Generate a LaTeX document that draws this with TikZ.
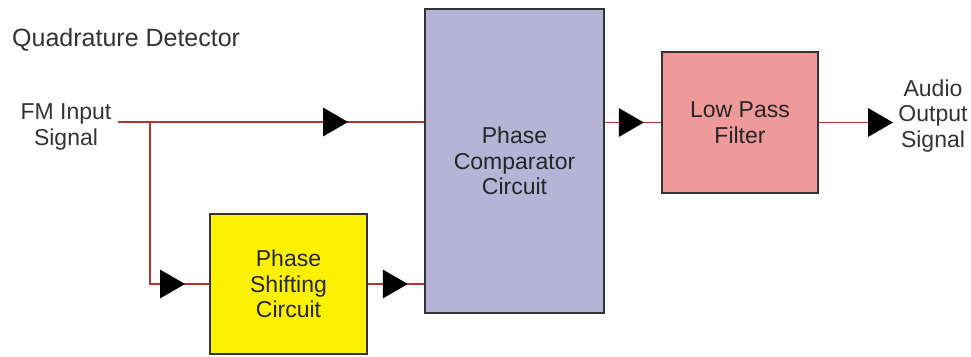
\documentclass[tikz,border=0pt]{standalone}
\usepackage{fontspec}
\setmainfont{Liberation Sans}
\usepackage{xcolor}
\usepackage{tikz}
\usetikzlibrary{arrows.meta,positioning,calc,decorations.markings}

\definecolor{wirered}{RGB}{178,52,52}
\definecolor{lavender}{RGB}{181,179,214}
\definecolor{salmon}{RGB}{238,154,154}
\definecolor{lemon}{RGB}{252,242,0}
\newcommand{\blockfont}{\fontsize{23}{25.5}\selectfont}

\begin{document}
\begin{tikzpicture}[
  x=1pt, y=-1pt,
  font=\blockfont,
  wire/.style={draw=wirered, line width=1.4pt},
  mid/.style={postaction={decorate}, decoration={markings, mark=at position #1 with {%
    \fill[black] (-25pt,-14.5pt) -- (0pt,0pt) -- (-25pt,14.5pt) -- cycle;}}},
  block/.style={draw=black!80, line width=1.6pt, text=black!85, align=center, inner sep=2pt},
  lbl/.style={text=black!80, align=center, inner sep=1pt}
]
\useasboundingbox (0,0) rectangle (971,356);
\node[lbl, anchor=west, font=\fontsize{25}{28}\selectfont] (title) at (11,40) {Quadrature Detector};
\node[block, fill=lavender, minimum width=179pt, minimum height=304pt] (cmp) at (514.5,161) {%
  Phase\\Comparator\\Circuit};
\node[block, fill=salmon, minimum width=156pt, minimum height=141pt] (lpf) at (740,122.5) {%
  Low Pass\\Filter};
\node[block, fill=lemon, minimum width=157pt, minimum height=140pt] (shift) at (288.5,284) {%
  Phase\\Shifting\\Circuit};
\node[lbl] (fm) at (66,127) {FM Input\\Signal};
\node[lbl] (audio) at (933,116) {Audio\\Output\\Signal};
\coordinate (fmin) at (118,122);
\coordinate (split) at (150,122);
\coordinate (outtip) at (893,122.5);
% signal paths
\draw[wire, mid=230pt] (fmin) -- (fmin -| cmp.west);
\draw[wire, mid=197pt] (split) |- (shift.west);
\draw[wire, mid=40pt] (shift.east) -- (shift.east -| cmp.west);
\draw[wire, mid=39pt] (lpf.west -| cmp.east) -- (lpf.west);
\draw[wire, mid=1] (lpf.east) -- (outtip);
\end{tikzpicture}
\end{document}
